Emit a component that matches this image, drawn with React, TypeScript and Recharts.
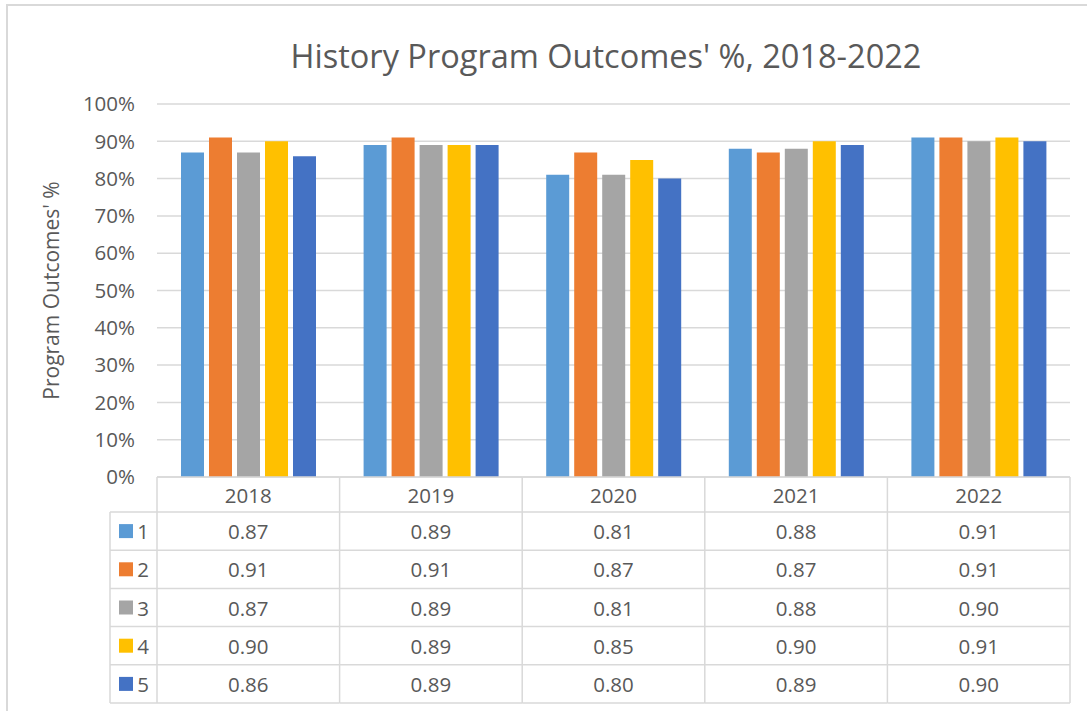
import { Bar, BarChart, CartesianGrid, XAxis, YAxis } from "recharts"

const years = ["2018", "2019", "2020", "2021", "2022"]
const seriesNames = ["1", "2", "3", "4", "5"]
const s1 = [0.87, 0.89, 0.81, 0.88, 0.91]
const s2 = [0.91, 0.91, 0.87, 0.87, 0.91]
const s3 = [0.87, 0.89, 0.81, 0.88, 0.9]
const s4 = [0.9, 0.89, 0.85, 0.9, 0.91]
const s5 = [0.86, 0.89, 0.8, 0.89, 0.9]
const yTicks = [0, 0.1, 0.2, 0.3, 0.4, 0.5, 0.6, 0.7, 0.8, 0.9, 1]

const series = [s1, s2, s3, s4, s5]
const colors = ["#5B9BD5", "#ED7D31", "#A5A5A5", "#FFC000", "#4472C4"]

const data = years.map((year, i) => {
  const row: Record<string, string | number> = { year }
  seriesNames.forEach((name, k) => {
    row["s" + name] = series[k][i]
  })
  return row
})

const W = 1087
const H = 711
const PLOT_LEFT = 157
const PLOT_RIGHT = 1070
const PLOT_TOP = 104
const PLOT_BOTTOM = 477
const COL_W = (PLOT_RIGHT - PLOT_LEFT) / years.length
const HEAD_H = 35
const ROW_H = 38.2
const LEGEND_W = 47
const FONT = "'Open Sans', sans-serif"
const TEXT = "#595959"
const LINE = "#d9d9d9"
const FS = 20.5

function TableColumn(props: any) {
  const { x, y, payload, index } = props
  const left = x - COL_W / 2
  const tableBottom = y + HEAD_H + ROW_H * seriesNames.length
  return (
    <g fontFamily={FONT} fill={TEXT}>
      <line x1={left} x2={left + COL_W} y1={y} y2={y} stroke={LINE} strokeWidth={1.5} />
      <line x1={left + COL_W} x2={left + COL_W} y1={y} y2={tableBottom} stroke={LINE} strokeWidth={1.5} />
      {index === 0 && (
        <line x1={left} x2={left} y1={y} y2={tableBottom} stroke={LINE} strokeWidth={1.5} />
      )}
      <text x={x} y={y + HEAD_H / 2} textAnchor="middle" dominantBaseline="central" fontSize={FS}>
        {payload.value}
      </text>
      {seriesNames.map((name, k) => {
        const top = y + HEAD_H + ROW_H * k
        return (
          <g key={name}>
            <line x1={index === 0 ? left - LEGEND_W : left} x2={left + COL_W} y1={top} y2={top} stroke={LINE} strokeWidth={1.5} />
            <text x={x} y={top + ROW_H / 2} textAnchor="middle" dominantBaseline="central" fontSize={FS}>
              {series[k][index].toFixed(2)}
            </text>
            {index === 0 && (
              <g>
                <rect x={left - LEGEND_W + 9} y={top + ROW_H / 2 - 7} width={14} height={14} fill={colors[k]} />
                <text x={left - LEGEND_W + 33} y={top + ROW_H / 2} textAnchor="middle" dominantBaseline="central" fontSize={FS}>
                  {name}
                </text>
              </g>
            )}
          </g>
        )
      })}
      <line x1={index === 0 ? left - LEGEND_W : left} x2={left + COL_W} y1={tableBottom} y2={tableBottom} stroke={LINE} strokeWidth={1.5} />
      {index === 0 && (
        <line x1={left - LEGEND_W} x2={left - LEGEND_W} y1={y + HEAD_H} y2={tableBottom} stroke={LINE} strokeWidth={1.5} />
      )}
    </g>
  )
}

export default function App() {
  return (
    <div style={{ position: "absolute", left: 0, top: 0, width: W, height: H, overflow: "hidden", background: "#fff" }}>
      <div
        style={{
          position: "absolute",
          left: 6,
          top: 4,
          width: W + 20,
          height: H + 20,
          border: "2px solid " + LINE,
        }}
      />
      <div
        style={{
          position: "absolute",
          left: 0,
          width: 1212,
          top: 34,
          textAlign: "center",
          fontFamily: FONT,
          fontSize: 32.5,
          color: TEXT,
          lineHeight: "44px",
        }}
      >
        History Program Outcomes' %, 2018-2022
      </div>
      <div style={{ position: "absolute", left: 0, top: 0 }}>
        <BarChart
          width={W}
          height={H}
          data={data}
          margin={{ top: PLOT_TOP, right: W - PLOT_RIGHT, left: 7, bottom: 0 }}
          barCategoryGap={24}
          barGap={5}
        >
          <CartesianGrid vertical={false} stroke={LINE} strokeWidth={1.5} />
          <XAxis
            dataKey="year"
            axisLine={false}
            tickLine={false}
            tickSize={0}
            tickMargin={0}
            interval={0}
            height={H - PLOT_BOTTOM}
            tick={<TableColumn />}
          />
          <YAxis
            width={PLOT_LEFT - 7}
            domain={[0, 1]}
            ticks={yTicks}
            tickFormatter={(v: number) => Math.round(v * 100) + "%"}
            axisLine={false}
            tickLine={false}
            tickSize={0}
            tickMargin={22}
            tick={{ fill: TEXT, fontSize: FS, fontFamily: FONT }}
            label={{
              value: "Program Outcomes' %",
              angle: -90,
              position: "center",
              dx: -30,
              fill: TEXT,
              fontSize: 21,
              fontFamily: FONT,
            }}
          />
          {seriesNames.map((name, k) => (
            <Bar key={name} dataKey={"s" + name} fill={colors[k]} isAnimationActive={false} />
          ))}
        </BarChart>
      </div>
    </div>
  )
}
